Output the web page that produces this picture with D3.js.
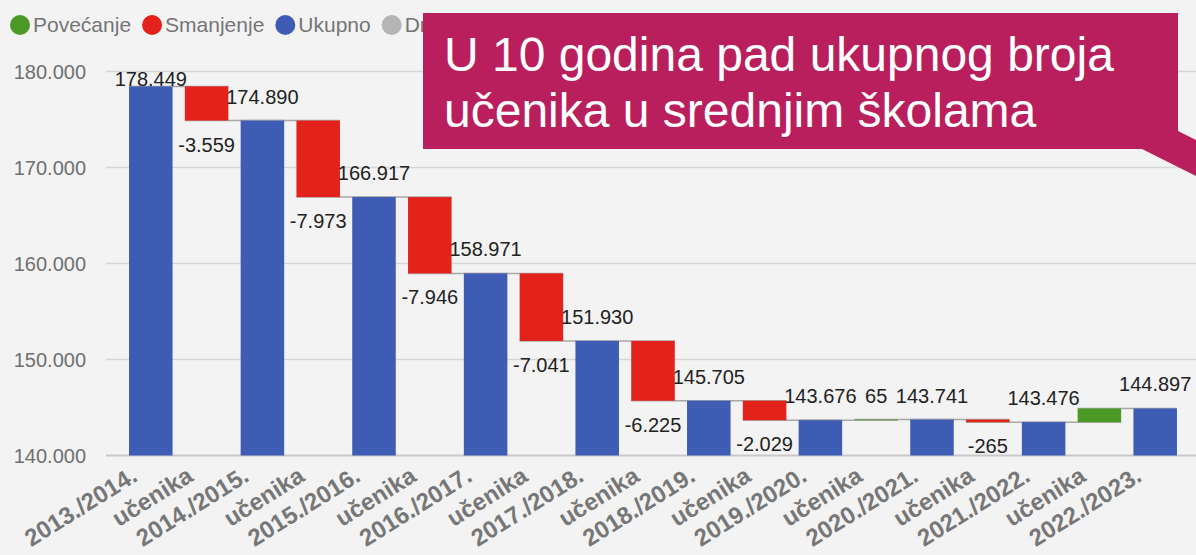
<!DOCTYPE html>
<html>
<head>
<meta charset="utf-8">
<script src="https://cdn.jsdelivr.net/npm/d3@7"></script>
<style>
  html, body { margin: 0; padding: 0; background: #f3f3f3; }
  svg { display: block; font-family: "Liberation Sans", Arial, sans-serif; }
</style>
</head>
<body>
<svg id="chart" width="1196" height="555"></svg>
<script>
// school years (totals) and the change between them
const years = ["2013./2014.", "2014./2015.", "2015./2016.", "2016./2017.", "2017./2018.",
  "2018./2019.", "2019./2020.", "2020./2021.", "2021./2022.", "2022./2023."];
const totals = [178449, 174890, 166917, 158971, 151930, 145705, 143676, 143741, 143476, 144897];
const changes = [-3559, -7973, -7946, -7041, -6225, -2029, 65, -265, 1421];
const changeName = "učenika";
const changeLabelHidden = [false, false, false, false, false, false, false, false, true];

const yTicks = [140000, 150000, 160000, 170000, 180000];
const legendItems = [
  { name: "Povećanje", color: "#4c9a25" },
  { name: "Smanjenje", color: "#e2221b" },
  { name: "Ukupno", color: "#3f5cb4" },
  { name: "Drugo", color: "#b5b5b5" }
];
const title = ["U 10 godina pad ukupnog broja", "učenika u srednjim školama"];

const colors = { up: "#4c9a25", down: "#e2221b", total: "#3f5cb4" };

// build waterfall steps
const steps = [];
years.forEach((y, i) => {
  steps.push({ name: y, start: 140000, end: totals[i], type: "total", value: totals[i], hidden: false });
  if (i < changes.length) {
    const c = changes[i];
    steps.push({ name: changeName, start: totals[i], end: totals[i] + c,
      type: c >= 0 ? "up" : "down", value: c, hidden: changeLabelHidden[i] });
  }
});

const fmt = d3.formatLocale({ decimal: ",", thousands: ".", grouping: [3], currency: ["", ""], minus: "-" }).format(",d");

const svg = d3.select("#chart");

const yScale = d3.scaleLinear().domain([140000, 180000]).range([455.5, 71.5]);
const xScale = d3.scaleBand()
  .domain(steps.map((d, i) => i))
  .range([122.9, 1183.1])
  .paddingInner(0.22)
  .paddingOuter(0.11);

const gridLeft = 106, gridRight = 1196;
const calloutLeft = 423;

// gridlines
svg.append('g')
  .selectAll('line')
  .data(yTicks)
  .enter()
  .append('line')
  .attr('x1', gridLeft).attr('x2', gridRight)
  .attr('y1', d => yScale(d)).attr('y2', d => yScale(d))
  .style('stroke', d => d === 140000 ? '#c9c9c9' : '#d6d6d6')
  .style('stroke-width', d => d === 140000 ? 2 : 1.5);

// y tick labels
svg.append('g')
  .selectAll('text')
  .data(yTicks)
  .enter()
  .append('text')
  .attr('x', 86)
  .attr('y', d => yScale(d) + 7)
  .style('text-anchor', 'end')
  .style('font-size', '20px')
  .style('fill', '#6f6f6f')
  .text(d => fmt(d));

// connectors
const conn = steps.slice(0, -1).map((d, i) => ({ i, level: d.end }));
svg.append('g')
  .selectAll('line')
  .data(conn)
  .enter()
  .append('line')
  .attr('x1', d => xScale(d.i))
  .attr('x2', d => xScale(d.i + 1) + xScale.bandwidth())
  .attr('y1', d => yScale(d.level)).attr('y2', d => yScale(d.level))
  .style('stroke', '#a8a8a8')
  .style('stroke-width', 1.5);

// bars
svg.append('g')
  .selectAll('rect')
  .data(steps)
  .enter()
  .append('rect')
  .attr('x', (d, i) => xScale(i))
  .attr('width', xScale.bandwidth())
  .attr('y', d => yScale(Math.max(d.start, d.end)))
  .attr('height', d => Math.abs(yScale(d.start) - yScale(d.end)))
  .style('fill', d => colors[d.type]);

// value labels
const topLimit = yScale(180000) + 14;
svg.append('g')
  .selectAll('text')
  .data(steps.map((d, i) => ({ ...d, i })).filter(d => !d.hidden))
  .enter()
  .append('text')
  .attr('x', d => xScale(d.i) + xScale.bandwidth() / 2)
  .attr('y', d => {
    if (d.type === "down") return yScale(d.end) + 31;
    return Math.max(yScale(d.end) - 17, topLimit);
  })
  .style('text-anchor', 'middle')
  .style('font-size', '20px')
  .style('fill', '#222')
  .text(d => fmt(d.value));

// category labels
svg.append('g')
  .selectAll('text')
  .data(steps.map((d, i) => ({ name: d.name, i })))
  .enter()
  .append('text')
  .attr('transform', d => `translate(${xScale(d.i) + xScale.bandwidth() / 2 - 12}, 480) rotate(-32)`)
  .style('text-anchor', 'end')
  .style('font-size', '24px')
  .style('font-weight', 'bold')
  .style('fill', '#777')
  .text(d => d.name);

// legend (the callout box hides its right end)
svg.append('clipPath').attr('id', 'legend-clip')
  .append('rect')
  .attr('x', 0).attr('y', 0)
  .attr('width', calloutLeft).attr('height', 60);

const legend = svg.append('g').attr('clip-path', 'url(#legend-clip)');
let lx = 10;
legendItems.forEach(item => {
  legend.append('circle')
    .attr('cx', lx + 10).attr('cy', 25).attr('r', 10)
    .style('fill', item.color);
  const t = legend.append('text')
    .attr('x', lx + 23).attr('y', 32)
    .style('font-size', '21px')
    .style('fill', '#757575')
    .text(item.name);
  lx += 23 + t.node().getComputedTextLength() + 11;
});

// callout
svg.append('path')
  .attr('d', `M${calloutLeft},13 L1178,13 L1178,131 L1196,140 L1196,176 L1142,149 L${calloutLeft},149 Z`)
  .style('fill', '#b91f5d');

svg.append('g')
  .selectAll('text')
  .data(title)
  .enter()
  .append('text')
  .attr('x', 444)
  .attr('y', (d, i) => 71 + i * 56)
  .style('font-size', '48px')
  .style('fill', 'white')
  .text(d => d);
</script>
</body>
</html>
